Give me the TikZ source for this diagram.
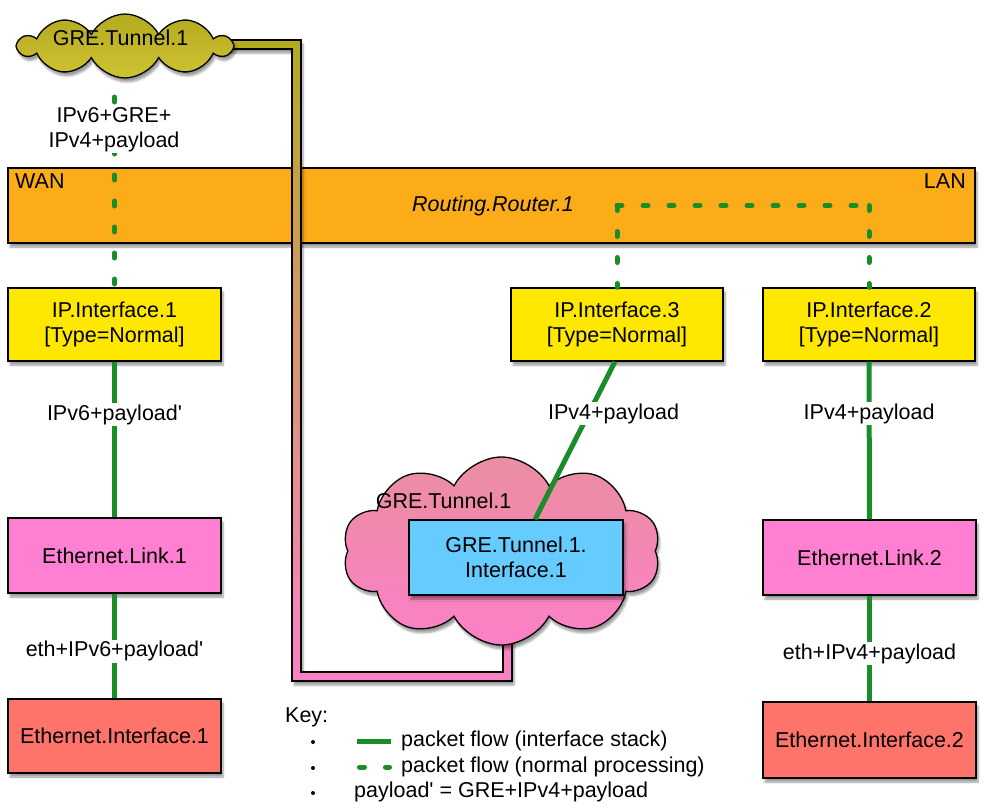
\documentclass[tikz,border=0pt]{standalone}
\usepackage{fontspec}
\setmainfont{Liberation Sans}
\usetikzlibrary{shapes.symbols,shadows.blur}
\definecolor{routerorange}{RGB}{251,172,24}
\definecolor{ipyellow}{RGB}{255,232,0}
\definecolor{linkpink}{RGB}{255,128,210}
\definecolor{ethsalmon}{RGB}{255,116,106}
\definecolor{tunblue}{RGB}{102,204,255}
\definecolor{flowgreen}{RGB}{26,140,40}
\definecolor{olivetop}{RGB}{180,170,30}
\definecolor{olivebot}{RGB}{205,195,50}
\definecolor{cloudpinktop}{RGB}{234,142,160}
\definecolor{cloudpinkbot}{RGB}{252,128,200}
\definecolor{pipemid}{RGB}{222,160,110}
\begin{document}
\begin{tikzpicture}[x=1pt,y=-1pt,
  every node/.style={font=\fontsize{21.5}{25}\selectfont},
  softshadow/.style={blur shadow={shadow blur steps=6, shadow xshift=2pt, shadow yshift=-4pt}},
  box/.style={draw=black, line width=1.3pt, inner sep=0pt, align=center, softshadow},
  cloudshape/.style={cloud, draw=black, line width=1.3pt, inner sep=0pt, softshadow},
  flow/.style={draw=flowgreen, line width=5pt},
  flowdash/.style={flow, line cap=round, dash pattern=on 5pt off 21pt},
  lbl/.style={fill=white, inner sep=1.5pt, align=center},
  plain/.style={inner sep=0pt, align=center},
  keydot/.style={circle, fill=black, inner sep=0pt, minimum size=4pt},
]
\useasboundingbox (0,0) rectangle (991,809);

% router bar
\node[box, fill=routerorange, minimum width=967pt, minimum height=75pt] (router) at (491.5,205.5) {};
\node[plain, anchor=west] (wan) at (15,181) {WAN};
\node[plain, anchor=east] (lan) at (966,181) {LAN};
\node[plain] (rname) at (493,206) {\itshape Routing.Router.1};

% pipe between the two tunnel clouds
\shadedraw[softshadow, top color=olivetop, middle color=pipemid, bottom color=cloudpinkbot, draw=black, line width=1.3pt]
  (180,40) -- (301,40) -- (301,672) -- (503,672) -- (503,615) -- (512,615) -- (512,681) -- (292,681) -- (292,49) -- (180,49) -- cycle;

% clouds
\node[cloudshape, cloud puffs=10, cloud puff arc=125, minimum width=212pt, minimum height=64pt,
      top color=olivetop, bottom color=olivebot] (topcloud) at (125,46) {};
\node[plain] (topcloudlbl) at (120.5,38) {GRE.Tunnel.1};

\node[cloudshape, cloud puffs=10, cloud puff arc=125, minimum width=318pt, minimum height=188pt,
      top color=cloudpinktop, bottom color=cloudpinkbot] (bigcloud) at (501.5,551) {};
\node[plain] (bigcloudlbl) at (443.5,501) {GRE.Tunnel.1};
\node[box, fill=tunblue, minimum width=214pt, minimum height=75pt] (gti) at (516,557.5) {GRE.Tunnel.1.\\Interface.1};

% interface boxes
\node[box, fill=ipyellow, minimum width=213pt, minimum height=73pt] (ip1) at (114.5,324.5) {IP.Interface.1\\{}[Type=Normal]};
\node[box, fill=ipyellow, minimum width=212pt, minimum height=73pt] (ip3) at (617,324.5) {IP.Interface.3\\{}[Type=Normal]};
\node[box, fill=ipyellow, minimum width=212pt, minimum height=73pt] (ip2) at (869,324.5) {IP.Interface.2\\{}[Type=Normal]};
\node[box, fill=linkpink, minimum width=213pt, minimum height=75pt] (link1) at (114.5,555.5) {Ethernet.Link.1};
\node[box, fill=ethsalmon, minimum width=213pt, minimum height=74pt] (eif1) at (114.5,736) {Ethernet.Interface.1};
\node[box, fill=linkpink, minimum width=213pt, minimum height=75pt] (link2) at (869.5,557.5) {Ethernet.Link.2};
\node[box, fill=ethsalmon, minimum width=213pt, minimum height=76pt] (eif2) at (869.5,740) {Ethernet.Interface.2};

% normal processing (dashed)
\coordinate (tcb) at (114.5,97);
\draw[flowdash] (tcb) -- (ip1.north);
\node[lbl] (l0) at (114,129.5) {IPv6+GRE+\\IPv4+payload};
\coordinate (c3) at (ip3.north |- router.center);
\coordinate (c2) at (ip2.north |- router.center);
\draw[flowdash] (c3) -- (c2);
\draw[flowdash] (c3) -- (ip3.north);
\draw[flowdash] (c2) -- (ip2.north);

% interface stack (solid)
\draw[flow] (ip1.south) -- node[lbl, pos=0.34] (l1) {IPv6+payload\textquotesingle} (link1.north);
\draw[flow] (link1.south) -- node[lbl, pos=0.55] (l2) {eth+IPv6+payload\textquotesingle} (eif1.north);
\draw[flow] (ip2.south) -- node[lbl, pos=0.33] (l3) {IPv4+payload} (link2.north);
\draw[flow] (link2.south) -- node[lbl, pos=0.55] (l4) {eth+IPv4+payload} (eif2.north);
\draw[flow] ([xshift=-2pt]ip3.south) -- node[lbl, pos=0.33, xshift=25pt] (l5) {IPv4+payload} ([xshift=19pt]gti.north);

% key
\node[plain, anchor=west] (key) at (285,717) {Key:};
\node[keydot] (b1) at (313,742) {};
\node[keydot] (b2) at (313,768) {};
\node[keydot] (b3) at (313,793) {};
\node[plain, anchor=west] (k1) at (401,741) {packet flow (interface stack)};
\node[plain, anchor=west] (k2) at (401,767) {packet flow (normal processing)};
\node[plain, anchor=west] (k3) at (354,792) {payload\textquotesingle{} = GRE+IPv4+payload};
\draw[flow] ([xshift=-44pt]k1.west) -- ([xshift=-10pt]k1.west);
\draw[flowdash] ([xshift=-41.5pt]k2.west) -- ([xshift=-11.5pt]k2.west);
\end{tikzpicture}
\end{document}
